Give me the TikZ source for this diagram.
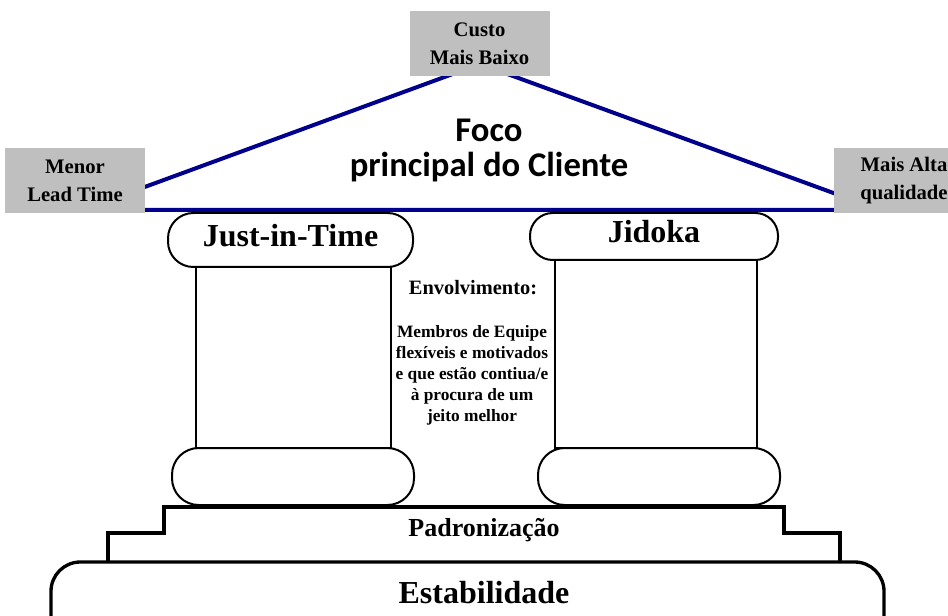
\documentclass[tikz,border=0pt]{standalone}
\usepackage{fontspec}
\setmainfont{Liberation Serif}
\newfontfamily\roofsans{Carlito}
\colorlet{boxgray}{black!25}
\definecolor{roofblue}{RGB}{0,0,140}

\begin{document}
\begin{tikzpicture}[x=0.75pt,y=-0.75pt,
  greybox/.style={fill=boxgray,minimum width=105pt,minimum height=49pt,inner sep=0pt,
    align=center,font=\bfseries\fontsize{15.5}{21}\selectfont},
  roofline/.style={draw=roofblue,line width=3pt,line join=round},
  capital/.style={draw,line width=1.5pt,fill=white,rounded corners=19pt,inner sep=0pt,
    font=\bfseries\fontsize{24}{26}\selectfont},
  shaft/.style={draw,line width=1.5pt,fill=white},
  footing/.style={draw,line width=1.5pt,fill=white,rounded corners=20pt},
  stepline/.style={draw,line width=2.5pt,line join=miter}]
\useasboundingbox (0,0) rectangle (948,616);
\clip (0,0) rectangle (948,616);
% roof
\draw[roofline] (82,210) -- (480,64) -- (880,210) -- cycle;
\node[greybox] (custo) at (479.5,43.5) {Custo\\Mais Baixo};
\node[greybox] (lead) at (75,180.5) {Menor\\Lead Time};
\node[greybox] (alta) at (904,180.5) {Mais Alta\\qualidade};
\node[font=\roofsans\bfseries\fontsize{26}{26.25}\selectfont,align=center] (foco)
  at (489,150) {Foco\\principal do Cliente};
% columns
\draw[shaft] (196,250) rectangle (391,448);
\draw[footing] (172,448) rectangle (414,505);
\node[capital,minimum width=183.75pt,minimum height=40.5pt] (jit) at (290.5,240)
  {\raisebox{7pt}{Just-in-Time}};
\draw[shaft] (555,250) rectangle (757,448);
\draw[footing] (538,448) rectangle (780,505);
\node[capital,minimum width=186pt,minimum height=35.25pt,rounded corners=17pt] (jidoka)
  at (654,236.5) {\raisebox{7pt}{Jidoka}};
% middle text
\node[font=\bfseries\fontsize{15.3}{16}\selectfont] (envtitle) at (473,288) {Envolvimento:};
\node[font=\bfseries\fontsize{13}{15.75}\selectfont,align=center] (envtext) at (472,375)
  {Membros de Equipe\\flexíveis e motivados\\e que estão contiua/e\\à procura de um\\jeito melhor};
% base
\draw[footing,line width=2.5pt,rounded corners=22pt] (51,562) rectangle (884,680);
\draw[stepline] (108,561) -- (108,533) -- (164,533) -- (164,507) -- (784,507)
  -- (784,533) -- (840,533) -- (840,561);
\node[font=\bfseries\fontsize{19.5}{20}\selectfont] (padr) at (484,530) {Padronização};
\node[font=\bfseries\fontsize{24}{28}\selectfont] (estab) at (484,593) {Estabilidade};
\end{tikzpicture}
\end{document}
